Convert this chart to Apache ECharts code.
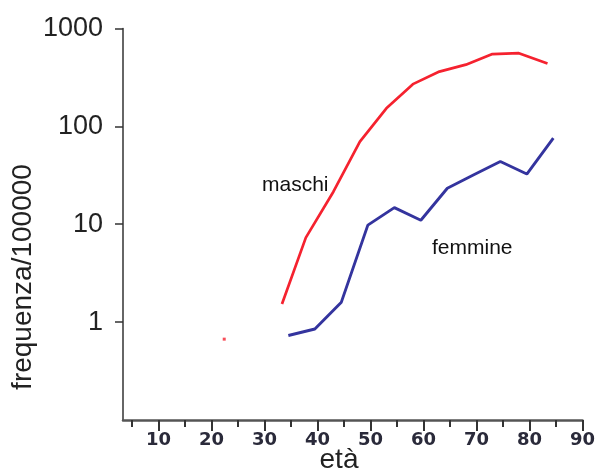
<!DOCTYPE html>
<html>
<head>
<meta charset="utf-8">
<script src="https://cdn.jsdelivr.net/npm/echarts@6/dist/echarts.min.js"></script>
<style>
  html, body { margin: 0; padding: 0; background: #fff; }
  #chart { width: 598px; height: 468px; }
</style>
</head>
<body>
<div id="chart"></div>
<script>
// Incidence per 100000 by age (età), males and females, log scale
const agesMaschi = [33.3, 37.8, 43, 48, 53, 58, 63, 68, 73, 78, 83.4];
const maschi     = [1.53, 7.3, 21.5, 70, 153, 270, 363, 427, 548, 560, 438];
const agesFemmine = [34.5, 39.5, 44.5, 49.5, 54.5, 59.5, 64.5, 69.5, 74.5, 79.5, 84.5];
const femmine     = [0.73, 0.85, 1.6, 9.8, 14.8, 11, 23.3, 32, 43.8, 32.6, 75.9];
const maschiIsolato = [[22.4, 0.67]];

const xMajorTicks = [10, 20, 30, 40, 50, 60, 70, 80, 90];
const xMinorTicks = [5, 15, 25, 35, 45, 55, 65, 75, 85];
const yTickLabels = [1, 10, 100, 1000];

const xMin = 3.3, xMax = 90;
const yMin = 0.1, yMax = 1000;

const RED = '#f5222f';
const BLUE = '#34349e';

const pairs = (xs, ys) => xs.map((x, i) => [x, ys[i]]);

const chart = echarts.init(document.getElementById('chart'));
chart.setOption({
  backgroundColor: '#ffffff',
  animation: false,
  grid: { left: 123, right: 15, top: 28.5, bottom: 48, containLabel: false },
  xAxis: [
    {
      type: 'value', min: xMin, max: xMax,
      axisLine: { show: true, lineStyle: { color: '#555', width: 2.5 } },
      axisTick: { show: true, customValues: xMajorTicks, length: 11, lineStyle: { color: '#333', width: 2 } },
      axisLabel: {
        show: true, customValues: xMajorTicks, margin: 11,
        fontFamily: 'DejaVu Sans', fontWeight: 'bold', fontSize: 18, color: '#2a2a3a'
      },
      splitLine: { show: false }
    },
    {
      type: 'value', min: xMin, max: xMax, position: 'bottom',
      axisLine: { show: false },
      axisTick: { show: true, customValues: xMinorTicks, length: 7, lineStyle: { color: '#333', width: 2 } },
      axisLabel: { show: false },
      splitLine: { show: false }
    }
  ],
  yAxis: {
    type: 'log', logBase: 10, min: yMin, max: yMax,
    axisLine: { show: true, lineStyle: { color: '#333', width: 1.5 } },
    axisTick: { show: true, customValues: yTickLabels, length: 8, lineStyle: { color: '#333', width: 1.5 } },
    axisLabel: {
      show: true, customValues: yTickLabels, margin: 20,
      fontFamily: 'Liberation Sans', fontSize: 27, color: '#222',
      formatter: v => String(v)
    },
    splitLine: { show: false }
  },
  series: [
    {
      name: 'maschi', type: 'line', data: pairs(agesMaschi, maschi),
      showSymbol: false, smooth: false,
      lineStyle: { color: RED, width: 2.7 }, itemStyle: { color: RED }
    },
    {
      name: 'maschi', type: 'scatter', data: maschiIsolato,
      symbol: 'rect', symbolSize: 3, itemStyle: { color: RED }
    },
    {
      name: 'femmine', type: 'line', data: pairs(agesFemmine, femmine),
      showSymbol: false, smooth: false,
      lineStyle: { color: BLUE, width: 2.9 }, itemStyle: { color: BLUE }
    }
  ],
  graphic: [
    {
      type: 'text', x: 23, y: 277, rotation: Math.PI / 2,
      style: {
        text: 'frequenza/100000', fontFamily: 'Liberation Sans', fontSize: 28,
        fill: '#222', align: 'center', verticalAlign: 'middle'
      }
    },
    {
      type: 'text', x: 339, y: 460,
      style: {
        text: 'età', fontFamily: 'Liberation Sans', fontSize: 28,
        fill: '#222', align: 'center', verticalAlign: 'middle'
      }
    },
    {
      type: 'text', x: 262, y: 185,
      style: {
        text: 'maschi', fontFamily: 'Liberation Sans', fontSize: 21,
        fill: '#111', align: 'left', verticalAlign: 'middle'
      }
    },
    {
      type: 'text', x: 432, y: 248,
      style: {
        text: 'femmine', fontFamily: 'Liberation Sans', fontSize: 21,
        fill: '#111', align: 'left', verticalAlign: 'middle'
      }
    }
  ]
});
</script>
</body>
</html>
